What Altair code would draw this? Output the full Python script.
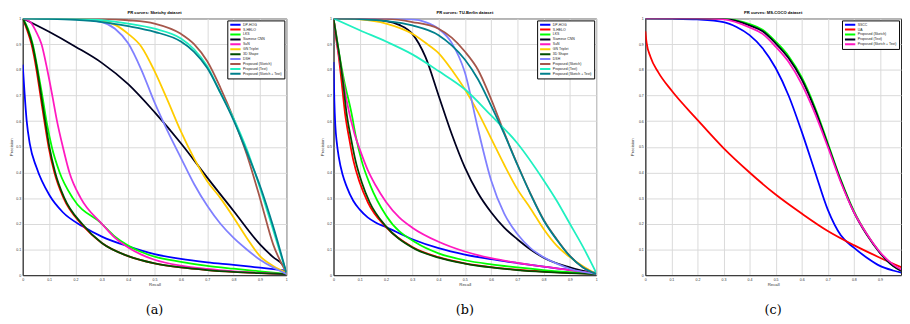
import altair as alt
import pandas as pd

# ---------------- Panel (a): Sketchy dataset ----------------
A_NAMES = ["DP-HOG", "S-HELO", "LKS", "Siamese CNN", "SaN", "GN Triplet", "3D Shape",
           "DSH", "Proposed (Sketch)", "Proposed (Text)", "Proposed (Sketch + Text)"]
A_COLORS = ["#0000FF", "#FF0000", "#00FF00", "#000020", "#FF19C0", "#FFCC00", "#004D00",
            "#8080FF", "#A5574B", "#20F0C0", "#00808C"]

A_DPHOG_R = [0, 0.015, 0.027, 0.052, 0.102, 0.152, 0.227, 0.3, 0.4, 0.5, 0.6, 0.7, 0.8, 0.9, 1]
A_DPHOG_P = [0.82, 0.6, 0.51, 0.42, 0.31, 0.245, 0.19, 0.15, 0.112, 0.082, 0.063, 0.05, 0.04, 0.029, 0.018]
A_SHELO_R = [0, 0.018, 0.033, 0.052, 0.067, 0.082, 0.098, 0.12, 0.155, 0.222, 0.3, 0.4, 0.5, 0.6, 0.7, 0.8, 0.9, 1]
A_SHELO_P = [1, 0.95, 0.9, 0.8, 0.7, 0.6, 0.5, 0.4, 0.3, 0.2, 0.125, 0.074, 0.046, 0.03, 0.02, 0.013, 0.008, 0.004]
A_LKS_R = [0, 0.02, 0.038, 0.057, 0.074, 0.09, 0.11, 0.14, 0.19, 0.3, 0.35, 0.4, 0.45, 0.5, 0.6, 0.7, 0.8, 0.9, 1]
A_LKS_P = [1, 0.96, 0.9, 0.8, 0.7, 0.6, 0.5, 0.4, 0.3, 0.2, 0.15, 0.115, 0.09, 0.072, 0.052, 0.036, 0.025, 0.015, 0.005]
A_SIAM_R = [0, 0.1, 0.2, 0.3, 0.4, 0.5, 0.6, 0.7, 0.8, 0.9, 0.95, 0.99, 1]
A_SIAM_P = [1, 0.948, 0.89, 0.827, 0.744, 0.635, 0.514, 0.38, 0.25, 0.12, 0.07, 0.035, 0.01]
A_SAN_R = [0, 0.03, 0.05, 0.071, 0.093, 0.112, 0.13, 0.152, 0.177, 0.22, 0.3, 0.35, 0.4, 0.45, 0.5, 0.6, 0.7, 0.8, 0.9, 1]
A_SAN_P = [1, 0.985, 0.95, 0.9, 0.8, 0.7, 0.6, 0.5, 0.4, 0.3, 0.2, 0.145, 0.108, 0.08, 0.06, 0.037, 0.024, 0.015, 0.009, 0.004]
A_GN_R = [0, 0.2, 0.3, 0.35, 0.4, 0.45, 0.5, 0.55, 0.6, 0.65, 0.7, 0.75, 0.8, 0.85, 0.9, 0.95, 1]
A_GN_P = [1, 0.998, 0.99, 0.975, 0.94, 0.89, 0.795, 0.68, 0.56, 0.455, 0.366, 0.3, 0.225, 0.145, 0.074, 0.036, 0.01]
A_3D_R = [0, 0.021, 0.036, 0.055, 0.07, 0.085, 0.101, 0.123, 0.158, 0.225, 0.3, 0.4, 0.5, 0.6, 0.7, 0.8, 0.9, 1]
A_3D_P = [1, 0.95, 0.9, 0.8, 0.7, 0.6, 0.5, 0.4, 0.3, 0.2, 0.125, 0.074, 0.046, 0.03, 0.02, 0.013, 0.008, 0.004]
A_DSH_R = [0, 0.2, 0.3, 0.35, 0.4, 0.45, 0.5, 0.55, 0.6, 0.65, 0.7, 0.75, 0.8, 0.85, 0.9, 0.95, 1]
A_DSH_P = [1, 0.998, 0.986, 0.96, 0.903, 0.8, 0.673, 0.56, 0.457, 0.355, 0.27, 0.2, 0.145, 0.1, 0.06, 0.03, 0.005]
A_PS_R = [0, 0.3, 0.4, 0.5, 0.6, 0.65, 0.7, 0.75, 0.8, 0.85, 0.9, 0.95, 1]
A_PS_P = [1, 0.998, 0.993, 0.98, 0.94, 0.9, 0.833, 0.73, 0.61, 0.47, 0.3, 0.12, 0.01]
A_PT_R = [0, 0.2, 0.3, 0.4, 0.5, 0.6, 0.65, 0.7, 0.75, 0.8, 0.85, 0.9, 0.95, 1]
A_PT_P = [1, 0.998, 0.993, 0.98, 0.96, 0.922, 0.88, 0.814, 0.71, 0.61, 0.49, 0.34, 0.176, 0.01]
A_PST_R = [0, 0.1, 0.2, 0.3, 0.4, 0.5, 0.6, 0.65, 0.7, 0.75, 0.8, 0.85, 0.9, 0.95, 1]
A_PST_P = [1, 0.998, 0.994, 0.986, 0.97, 0.948, 0.91, 0.87, 0.807, 0.71, 0.603, 0.48, 0.348, 0.19, 0.01]

# ---------------- Panel (b): TU-Berlin dataset ----------------
B_NAMES = A_NAMES
B_COLORS = A_COLORS

B_DPHOG_R = [0, 0.003, 0.007, 0.012, 0.02, 0.035, 0.05, 0.075, 0.1, 0.13, 0.16, 0.2, 0.3, 0.4, 0.5, 0.6, 0.7, 0.8, 0.9, 1]
B_DPHOG_P = [0.83, 0.68, 0.58, 0.52, 0.46, 0.39, 0.345, 0.29, 0.255, 0.225, 0.205, 0.187, 0.14, 0.105, 0.08, 0.062, 0.047, 0.033, 0.02, 0.01]
B_SHELO_R = [0, 0.01, 0.019, 0.03, 0.044, 0.06, 0.075, 0.1, 0.131, 0.2, 0.3, 0.4, 0.5, 0.6, 0.7, 0.8, 0.9, 1]
B_SHELO_P = [1, 0.92, 0.857, 0.76, 0.628, 0.53, 0.449, 0.36, 0.283, 0.187, 0.11, 0.07, 0.046, 0.031, 0.021, 0.014, 0.009, 0.004]
B_LKS_R = [0, 0.01, 0.022, 0.04, 0.069, 0.085, 0.106, 0.14, 0.2, 0.318, 0.4, 0.5, 0.6, 0.7, 0.8, 0.9, 1]
B_LKS_P = [1, 0.94, 0.86, 0.76, 0.628, 0.54, 0.449, 0.35, 0.232, 0.124, 0.085, 0.058, 0.042, 0.03, 0.02, 0.012, 0.005]
B_SIAM_R = [0, 0.1, 0.2, 0.25, 0.3, 0.35, 0.4, 0.45, 0.5, 0.55, 0.6, 0.65, 0.7, 0.75, 0.8, 0.9, 1]
B_SIAM_P = [1, 0.998, 0.99, 0.975, 0.94, 0.85, 0.7, 0.55, 0.42, 0.32, 0.245, 0.185, 0.14, 0.1, 0.068, 0.03, 0.005]
B_SAN_R = [0, 0.01, 0.02, 0.03, 0.05, 0.08, 0.1, 0.13, 0.16, 0.2, 0.25, 0.3, 0.4, 0.5, 0.6, 0.7, 0.8, 0.9, 1]
B_SAN_P = [1, 0.93, 0.86, 0.8, 0.68, 0.55, 0.49, 0.41, 0.35, 0.285, 0.225, 0.185, 0.13, 0.092, 0.066, 0.048, 0.033, 0.02, 0.006]
B_GN_R = [0, 0.1, 0.2, 0.3, 0.35, 0.4, 0.45, 0.5, 0.55, 0.6, 0.65, 0.7, 0.75, 0.8, 0.85, 0.9, 0.95, 1]
B_GN_P = [1, 0.996, 0.98, 0.94, 0.905, 0.865, 0.8, 0.724, 0.635, 0.533, 0.43, 0.335, 0.26, 0.18, 0.115, 0.07, 0.035, 0.005]
B_3D_R = [0, 0.012, 0.022, 0.035, 0.05, 0.067, 0.083, 0.108, 0.138, 0.2, 0.3, 0.4, 0.5, 0.6, 0.7, 0.8, 0.9, 1]
B_3D_P = [1, 0.92, 0.857, 0.76, 0.628, 0.53, 0.449, 0.36, 0.283, 0.19, 0.108, 0.068, 0.045, 0.03, 0.02, 0.013, 0.008, 0.004]
B_DSH_R = [0, 0.2, 0.3, 0.35, 0.4, 0.45, 0.5, 0.55, 0.6, 0.65, 0.7, 0.75, 0.8, 0.85, 0.9, 1]
B_DSH_P = [1, 0.999, 0.996, 0.986, 0.96, 0.905, 0.79, 0.57, 0.37, 0.24, 0.16, 0.105, 0.07, 0.045, 0.025, 0.005]
B_PS_R = [0, 0.2, 0.3, 0.4, 0.45, 0.5, 0.55, 0.6, 0.65, 0.7, 0.75, 0.8, 0.85, 0.9, 0.95, 1]
B_PS_P = [1, 0.998, 0.986, 0.96, 0.925, 0.871, 0.8, 0.686, 0.555, 0.432, 0.318, 0.216, 0.14, 0.075, 0.03, 0.005]
B_PT_R = [0, 0.1, 0.2, 0.3, 0.4, 0.5, 0.6, 0.7, 0.8, 0.85, 0.9, 0.95, 1]
B_PT_P = [1, 0.954, 0.91, 0.86, 0.795, 0.724, 0.622, 0.514, 0.37, 0.29, 0.2, 0.11, 0.01]
B_PST_R = [0, 0.1, 0.2, 0.3, 0.4, 0.45, 0.5, 0.55, 0.6, 0.65, 0.7, 0.75, 0.8, 0.85, 0.9, 0.95, 1]
B_PST_P = [1, 0.997, 0.99, 0.973, 0.935, 0.895, 0.84, 0.763, 0.66, 0.55, 0.43, 0.316, 0.214, 0.138, 0.074, 0.03, 0.005]

# ---------------- Panel (c): MS-COCO dataset ----------------
C_NAMES = ["SSCC", "UA", "Proposed (Sketch)", "Proposed (Text)", "Proposed (Sketch + Text)"]
C_COLORS = ["#0000FF", "#FF0000", "#00FF00", "#000020", "#FF19C0"]

C_SSCC_R = [0, 0.1, 0.2, 0.3, 0.35, 0.4, 0.45, 0.5, 0.55, 0.6, 0.65, 0.7, 0.75, 0.8, 0.85, 0.9, 0.95, 1]
C_SSCC_P = [1, 0.999, 0.996, 0.986, 0.967, 0.935, 0.884, 0.807, 0.699, 0.559, 0.406, 0.255, 0.155, 0.107, 0.068, 0.036, 0.018, 0.006]
C_UA_R = [0, 0.002, 0.005, 0.02, 0.05, 0.1, 0.2, 0.3, 0.4, 0.5, 0.6, 0.7, 0.8, 0.9, 1]
C_UA_P = [0.95, 0.93, 0.905, 0.85, 0.79, 0.72, 0.605, 0.495, 0.4, 0.314, 0.24, 0.172, 0.117, 0.068, 0.023]
C_PS_R = [0, 0.2, 0.3, 0.4, 0.45, 0.5, 0.55, 0.6, 0.65, 0.7, 0.75, 0.8, 0.85, 0.9, 0.95, 1]
C_PS_P = [1, 1, 0.999, 0.978, 0.956, 0.91, 0.853, 0.771, 0.656, 0.515, 0.372, 0.25, 0.159, 0.088, 0.036, 0.008]
C_PT_R = [0, 0.2, 0.3, 0.4, 0.45, 0.5, 0.55, 0.6, 0.65, 0.7, 0.75, 0.8, 0.85, 0.9, 0.95, 1]
C_PT_P = [1, 1, 0.998, 0.973, 0.95, 0.903, 0.845, 0.763, 0.648, 0.508, 0.367, 0.246, 0.157, 0.087, 0.036, 0.008]
C_PST_R = [0, 0.2, 0.3, 0.4, 0.45, 0.5, 0.55, 0.6, 0.65, 0.7, 0.75, 0.8, 0.85, 0.9, 0.95, 1]
C_PST_P = [1, 1, 0.996, 0.965, 0.94, 0.89, 0.83, 0.744, 0.632, 0.5, 0.362, 0.246, 0.16, 0.09, 0.042, 0.012]

TICKS_X = [0, 0.1, 0.2, 0.3, 0.4, 0.5, 0.6, 0.7, 0.8, 0.9, 1]
TICKS_X_C = [0, 0.1, 0.2, 0.3, 0.4, 0.5, 0.6, 0.7, 0.8, 0.9]
TICKS_Y = [0, 0.1, 0.2, 0.3, 0.4, 0.5, 0.6, 0.7, 0.8, 0.9, 1]


def build_df(names, series):
    rows = []
    for k, (name, rs, ps) in enumerate(zip(names, *series)):
        for r, p in zip(rs, ps):
            rows.append({"series": name, "k": k, "recall": r, "precision": p})
    return pd.DataFrame(rows)


A_DF = build_df(A_NAMES, ([A_DPHOG_R, A_SHELO_R, A_LKS_R, A_SIAM_R, A_SAN_R, A_GN_R, A_3D_R, A_DSH_R, A_PS_R, A_PT_R, A_PST_R],
                          [A_DPHOG_P, A_SHELO_P, A_LKS_P, A_SIAM_P, A_SAN_P, A_GN_P, A_3D_P, A_DSH_P, A_PS_P, A_PT_P, A_PST_P]))
B_DF = build_df(B_NAMES, ([B_DPHOG_R, B_SHELO_R, B_LKS_R, B_SIAM_R, B_SAN_R, B_GN_R, B_3D_R, B_DSH_R, B_PS_R, B_PT_R, B_PST_R],
                          [B_DPHOG_P, B_SHELO_P, B_LKS_P, B_SIAM_P, B_SAN_P, B_GN_P, B_3D_P, B_DSH_P, B_PS_P, B_PT_P, B_PST_P]))
C_DF = build_df(C_NAMES, ([C_SSCC_R, C_UA_R, C_PS_R, C_PT_R, C_PST_R],
                          [C_SSCC_P, C_UA_P, C_PS_P, C_PT_P, C_PST_P]))

HEIGHT = 261
# legend swatch: a horizontal stroke much longer than the (small) row height
LEGEND_SWATCH = "M-1,0L6,0"


def panel(df, names, colors, title, caption, width, xdomain, xticks, ytitle_pad=2):
    lines = alt.Chart(df).mark_line(strokeWidth=1.8, interpolate="monotone", clip=True).encode(
        x=alt.X("recall:Q",
                scale=alt.Scale(domain=xdomain, nice=False, zero=False),
                axis=alt.Axis(title="Recall", values=xticks, format=".1~f", labelFlush=False)),
        y=alt.Y("precision:Q",
                scale=alt.Scale(domain=[0, 1], nice=False),
                axis=alt.Axis(title="Precision", values=TICKS_Y, format=".1~f",
                              titlePadding=ytitle_pad)),
        color=alt.Color("series:N", sort=names,
                        scale=alt.Scale(domain=names, range=colors),
                        legend=alt.Legend(title=None, orient="top-right", offset=2,
                                          strokeColor="black", fillColor="white",
                                          padding=2, symbolType=LEGEND_SWATCH, symbolSize=9,
                                          symbolStrokeWidth=2, labelFontSize=3.5,
                                          labelFont="Liberation Sans", labelColor="#222",
                                          labelOffset=9, labelLimit=300, rowPadding=0,
                                          clipHeight=4.6)),
    )
    cap = alt.Chart(pd.DataFrame({"caption": [caption]})).mark_text(
        font="DejaVu Serif", fontSize=13, baseline="middle", color="black"
    ).encode(text="caption:N", x=alt.value(width / 2), y=alt.value(297))
    return alt.layer(lines, cap).properties(width=width, height=HEIGHT, title=title)


pa = panel(A_DF, A_NAMES, A_COLORS, "PR curves: Sketchy dataset", "(a)", 268, [0, 1], TICKS_X)
pb = panel(B_DF, B_NAMES, B_COLORS, "PR curves: TU-Berlin dataset", "(b)", 267, [0, 1], TICKS_X)
pc = panel(C_DF, C_NAMES, C_COLORS, "PR curves: MS-COCO dataset", "(c)", 260, [0, 0.981], TICKS_X_C,
           ytitle_pad=4)

chart = alt.hconcat(pa, pb, pc, spacing=31).resolve_scale(
    color="independent", x="independent", y="independent"
).properties(padding=0).configure_view(
    stroke="#262626", strokeWidth=1
).configure_title(
    font="Liberation Sans", fontSize=4.2, fontWeight="bold", color="black", offset=1, anchor="middle"
).configure_axis(
    labelFont="Liberation Sans", titleFont="Liberation Sans",
    labelFontSize=3.6, titleFontSize=4.4, titleFontWeight="normal",
    labelColor="#333", titleColor="#333",
    gridColor="#d9d9d9", gridWidth=1,
    domainColor="#262626", domainWidth=1,
    ticks=False, labelPadding=2, titlePadding=2
)

chart.save("out.html", embed_options={"renderer": "svg", "actions": False})
